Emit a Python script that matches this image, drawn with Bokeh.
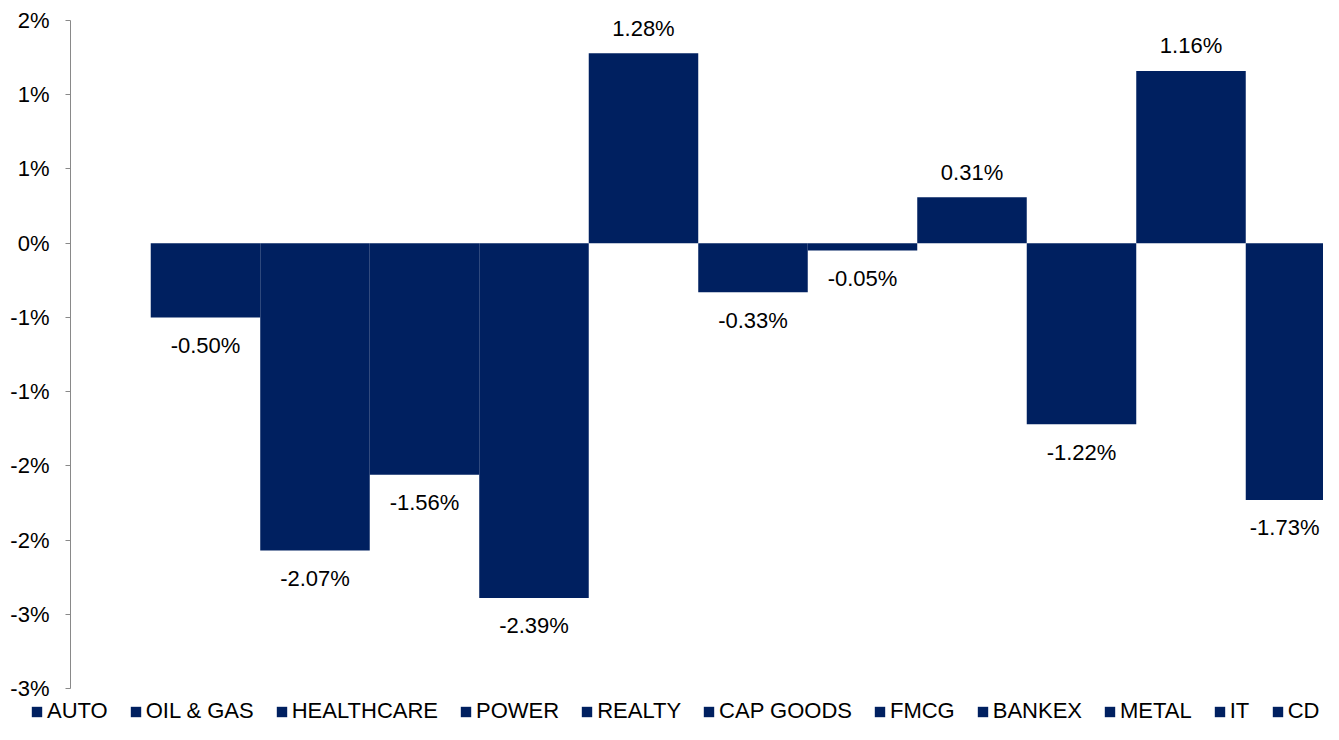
from bokeh.plotting import figure
from bokeh.models import ColumnDataSource, Range1d, FixedTicker, Legend, LegendItem
from bokeh.embed import file_html
from bokeh.resources import INLINE
from bokeh.core.properties import value

# ---- data ----
categories = ["AUTO", "OIL & GAS", "HEALTHCARE", "POWER", "REALTY", "CAP GOODS",
              "FMCG", "BANKEX", "METAL", "IT", "CD"]
changes = [-0.50, -2.07, -1.56, -2.39, 1.28, -0.33, -0.05, 0.31, -1.22, 1.16, -1.73]
tick_values = [-3.0, -2.5, -2.0, -1.5, -1.0, -0.5, 0.0, 0.5, 1.0, 1.5]
tick_labels = ["-3%", "-3%", "-2%", "-2%", "-1%", "-1%", "0%", "1%", "1%", "2%"]

# ---- styling / layout ----
NAVY = "#002060"
FONT = "Liberation Sans"
W, H = 1323, 724
AXIS_X = -1.233              # where the value axis sits (data units)
X_START, X_END = -1.872, 10.21
Y_START, Y_END = -3.2425, 1.6347

xs = list(range(len(categories)))
label_x = [(max(x - 0.5, AXIS_X) + min(x + 0.5, X_END)) / 2 for x in xs]
src = ColumnDataSource(dict(
    x=xs, top=changes, cat=categories, lx=label_x,
    txt=[f"{v:.2f}%" for v in changes],
    yoff=[-25 if v >= 0 else 28 for v in changes],
))

p = figure(width=W, height=H, output_backend="svg", toolbar_location=None,
           x_range=Range1d(X_START, X_END), y_range=Range1d(Y_START, Y_END),
           min_border_left=0, min_border_right=0, min_border_top=0,
           min_border_bottom=0)
p.outline_line_color = None
p.xgrid.visible = False
p.ygrid.visible = False
p.xaxis.visible = False

r = p.vbar(x="x", top="top", bottom=0, width=1.0, source=src,
           fill_color=NAVY, line_color=None)

p.text(x="lx", y="top", text="txt", source=src, y_offset="yoff",
       text_align="center", text_baseline="middle",
       text_font=value(FONT), text_font_size="22px", text_color="black")

ya = p.yaxis[0]
ya.fixed_location = AXIS_X
ya.bounds = (tick_values[0], tick_values[-1])
ya.ticker = FixedTicker(ticks=tick_values)
ya.major_label_overrides = {t: l for t, l in zip(tick_values, tick_labels)}
ya.axis_line_color = "#898989"
ya.major_tick_line_color = "#898989"
ya.major_tick_in = 0
ya.major_tick_out = 5
ya.minor_tick_line_color = None
ya.major_label_standoff = 16
ya.major_label_text_font = FONT
ya.major_label_text_font_size = "22px"
ya.major_label_text_color = "black"

items = [LegendItem(label=c, renderers=[r], index=i) for i, c in enumerate(categories)]
legend = Legend(items=items, orientation="horizontal", location=(30, 0),
                glyph_width=13, glyph_height=13, label_standoff=4, spacing=21,
                padding=0, margin=0, border_line_color=None,
                background_fill_alpha=0,
                label_text_font=FONT, label_text_font_size="22px",
                label_text_color="black")
p.add_layout(legend, "center")

open("out.html", "w").write(file_html(p, INLINE))
